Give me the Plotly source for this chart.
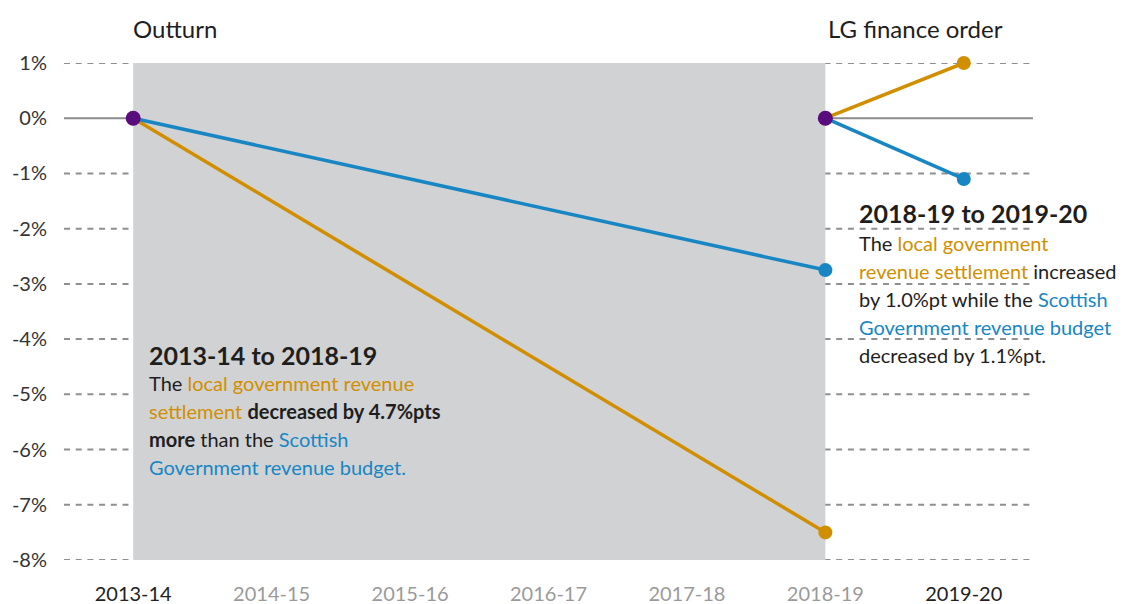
import plotly.graph_objects as go

years = ["2013-14", "2014-15", "2015-16", "2016-17", "2017-18", "2018-19", "2019-20"]
year_label_colors = ["#222222", "#9a9a9a", "#9a9a9a", "#9a9a9a", "#9a9a9a", "#9a9a9a", "#222222"]

outturn_years = ["2013-14", "2018-19"]
lg_outturn = [0.0, -7.5]
sg_outturn = [0.0, -2.75]

order_years = ["2018-19", "2019-20"]
lg_order = [0.0, 1.0]
sg_order = [0.0, -1.1]

base_years = ["2013-14", "2018-19"]
base_values = [0.0, 0.0]

y_ticks = [1, 0, -1, -2, -3, -4, -5, -6, -7, -8]
y_tick_labels = ["1%", "0%", "-1%", "-2%", "-3%", "-4%", "-5%", "-6%", "-7%", "-8%"]

ORANGE = "#d18f00"
BLUE = "#1886c3"
PURPLE = "#5a0c7e"
DARK = "#1e1e1e"
FONT = "Lato"

fig = go.Figure()

for xs, ys, col in [(outturn_years, lg_outturn, ORANGE), (outturn_years, sg_outturn, BLUE),
                    (order_years, lg_order, ORANGE), (order_years, sg_order, BLUE)]:
    fig.add_trace(go.Scatter(x=xs, y=ys, mode="lines+markers",
                             line=dict(color=col, width=3.5),
                             marker=dict(color=col, size=14), cliponaxis=False,
                             showlegend=False, hoverinfo="skip"))

fig.add_trace(go.Scatter(x=base_years, y=base_values, mode="markers",
                         marker=dict(color=PURPLE, size=15), cliponaxis=False,
                         showlegend=False, hoverinfo="skip"))

# shaded outturn period
fig.add_shape(type="rect", xref="x", yref="y", x0=0, x1=5, y0=-8, y1=1,
              fillcolor="#d1d2d4", line=dict(width=0), layer="between")
# gridlines drawn above the shading, below the data
for v in y_ticks:
    if v == 0:
        fig.add_shape(type="line", xref="paper", yref="y", x0=0, x1=1, y0=v, y1=v,
                      line=dict(color="#8c8c8c", width=2), layer="between")
    else:
        fig.add_shape(type="line", xref="paper", yref="y", x0=0, x1=1, y0=v, y1=v,
                      line=dict(color="#8f8f8f", width=2, dash="6px,5.7px"), layer="between")

L, R, T, B = 64, 92, 63, 44
W, H = 1125, 604
pw, ph = W - L - R, H - T - B


def px(x):
    return (x - L) / pw


def py(y):
    return (H - B - y) / ph


def o(t):
    return f'<span style="color:{ORANGE}">{t}</span>'


def b(t):
    return f'<span style="color:{BLUE}">{t}</span>'


annos = [
    ("Outturn", 175, 28, 24, "center"),
    ("LG finance order", 915, 28, 24, "center"),
    ("<b>2013-14 to 2018-19</b>", 147, 355, 25, "left"),
    ("The " + o("local government revenue"), 147, 383, 20, "left"),
    (o("settlement") + " <b>decreased by 4.7%pts</b>", 147, 411, 20, "left"),
    ("<b>more</b> than the " + b("Scottish"), 147, 439, 20, "left"),
    (b("Government revenue budget."), 147, 467, 20, "left"),
    ("<b>2018-19 to 2019-20</b>", 857, 213, 25, "left"),
    ("The " + o("local government"), 857, 243, 20, "left"),
    (o("revenue settlement") + " increased", 857, 271, 20, "left"),
    ("by 1.0%pt while the " + b("Scottish"), 857, 299, 20, "left"),
    (b("Government revenue budget"), 857, 327, 20, "left"),
    ("decreased by 1.1%pt.", 857, 355, 20, "left"),
]
for text, x, y, size, anchor in annos:
    fig.add_annotation(text=text, xref="paper", yref="paper", x=px(x), y=py(y),
                       xanchor=anchor, yanchor="middle", showarrow=False,
                       font=dict(family=FONT, size=size, color=DARK), align="left")

ticktext = [f'<span style="color:{c}">{y}</span>' for y, c in zip(years, year_label_colors)]

fig.update_xaxes(type="category", categoryorder="array", categoryarray=years,
                 range=[-0.5, 6.5], tickvals=years, ticktext=ticktext,
                 showgrid=False, zeroline=False, showline=False, automargin=False,
                 ticks="outside", ticklen=16, tickcolor="rgba(0,0,0,0)",
                 tickfont=dict(family=FONT, size=20, color=DARK))
fig.update_yaxes(range=[-8, 1], tickvals=y_ticks, ticktext=y_tick_labels,
                 showgrid=False, zeroline=False, automargin=False,
                 showline=False, ticks="outside", ticklen=12, tickcolor="rgba(0,0,0,0)",
                 tickfont=dict(family=FONT, size=20, color="#333333"))

fig.update_layout(width=W, height=H, margin=dict(l=L, r=R, t=T, b=B),
                  plot_bgcolor="white", paper_bgcolor="white",
                  font=dict(family=FONT, color=DARK))

fig.write_html("out.html")
